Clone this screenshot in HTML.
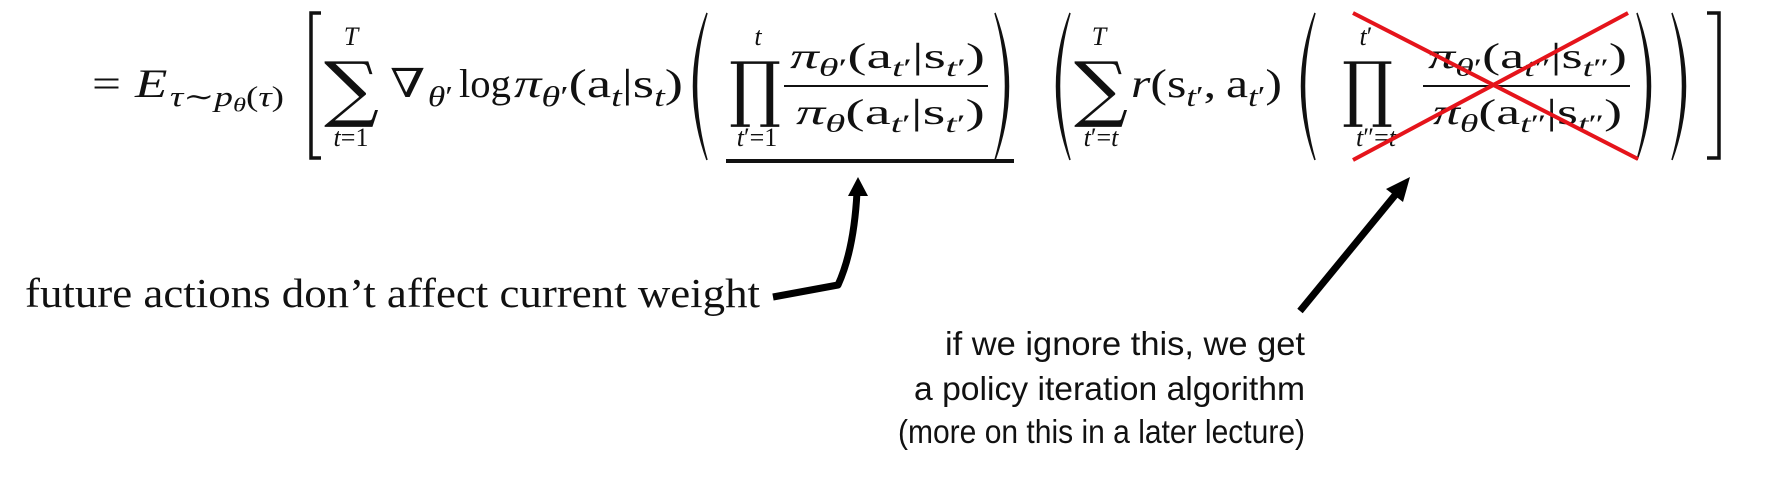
<!DOCTYPE html>
<html>
<head>
<meta charset="utf-8">
<style>
  html,body{margin:0;padding:0;background:#fff;}
  body{width:1774px;height:482px;overflow:hidden;}
  svg text{font-family:"Liberation Serif","DejaVu Serif",serif;fill:#111;}
  .sans{font-family:"Liberation Sans","DejaVu Sans",sans-serif !important;}
</style>
</head>
<body>
<svg id="root" width="1774" height="482" viewBox="0 0 1774 482" xmlns="http://www.w3.org/2000/svg">
  <rect x="0" y="0" width="1774" height="482" fill="#fff"/>

  <path d="M321,13 L311,13 L311,158 L321,158" fill="none" stroke="#111" stroke-width="3.5"/>
  <path d="M1707,13 L1719,13 L1719,158 L1707,158" fill="none" stroke="#111" stroke-width="3.5"/>

  <path d="M707,13 Q680,86 707,160 Q686,86 707,13 Z" fill="#111" stroke="#111" stroke-width="1.5"/>
  <path d="M995,13 Q1022,86 995,160 Q1016,86 995,13 Z" fill="#111" stroke="#111" stroke-width="1.5"/>
  <path d="M1070,13 Q1043,86 1070,160 Q1049,86 1070,13 Z" fill="#111" stroke="#111" stroke-width="1.5"/>
  <path d="M1315,13 Q1288,86 1315,160 Q1294,86 1315,13 Z" fill="#111" stroke="#111" stroke-width="1.5"/>
  <path d="M1637,13 Q1664,86 1637,160 Q1658,86 1637,13 Z" fill="#111" stroke="#111" stroke-width="1.5"/>
  <path d="M1672,13 Q1699,86 1672,160 Q1693,86 1672,13 Z" fill="#111" stroke="#111" stroke-width="1.5"/>

  <text x="324" y="113" font-size="72" textLength="55" lengthAdjust="spacingAndGlyphs" style="font-family:'DejaVu Serif',serif">∑</text>
  <text x="1074" y="113" font-size="72" textLength="54" lengthAdjust="spacingAndGlyphs" style="font-family:'DejaVu Serif',serif">∑</text>
  <text x="729" y="113" font-size="72" textLength="52" lengthAdjust="spacingAndGlyphs" style="font-family:'DejaVu Serif',serif">∏</text>
  <text x="1342" y="113" font-size="72" textLength="51" lengthAdjust="spacingAndGlyphs" style="font-family:'DejaVu Serif',serif">∏</text>

  <line x1="784" y1="86" x2="988" y2="86" stroke="#111" stroke-width="2"/>
  <line x1="1423" y1="86" x2="1630" y2="86" stroke="#111" stroke-width="2"/>

  <line x1="726" y1="161" x2="1014" y2="161" stroke="#111" stroke-width="4"/>

  <g id="math"></g>

  <line x1="1353" y1="13" x2="1638" y2="159" stroke="#e5141b" stroke-width="4"/>
  <line x1="1353" y1="160" x2="1628" y2="13" stroke="#e5141b" stroke-width="4"/>

  <text x="25" y="307" font-size="41" textLength="735" lengthAdjust="spacingAndGlyphs">future actions don’t affect current weight</text>
  <path d="M773,297 L838,285 Q854,250 857,192" fill="none" stroke="#000" stroke-width="7" stroke-linejoin="round"/>
  <polygon points="848,196 868,196 858,177" fill="#000"/>

  <line x1="1300" y1="311" x2="1396" y2="194" stroke="#000" stroke-width="7"/>
  <polygon points="1386,189 1403,202 1410,177" fill="#000"/>
  <text class="sans" x="1305" y="355" font-size="33" text-anchor="end" textLength="360" lengthAdjust="spacingAndGlyphs">if we ignore this, we get</text>
  <text class="sans" x="1305" y="400" font-size="33" text-anchor="end" textLength="391" lengthAdjust="spacingAndGlyphs">a policy iteration algorithm</text>
  <text class="sans" x="1305" y="443" font-size="33" text-anchor="end" textLength="407" lengthAdjust="spacingAndGlyphs">(more on this in a later lecture)</text>
</svg>

<script>
var NS = "http://www.w3.org/2000/svg";
var root = document.getElementById("math");

function seg(name, x0, x1, base, parts, big) {
  var g = document.createElementNS(NS, "g");
  
  
  root.appendChild(g);
  var fs = big || 40;
  var cx = 0;
  parts.forEach(function (p) {
    var t = document.createElementNS(NS, "text");
    
    
    var k = p[1], size = fs, dy = 0, style = "normal";
    if (k === "i") style = "italic";
    if (k === "si") { size = fs * 0.7; dy = fs * 0.22; style = "italic"; }
    if (k === "sr") { size = fs * 0.7; dy = fs * 0.22; }
    if (k === "ssi") { size = fs * 0.5; dy = fs * 0.36; style = "italic"; }
    t.setAttribute("x", cx);
    t.setAttribute("y", dy);
    t.setAttribute("font-size", size);
    t.setAttribute("font-style", style);
    if (p[2]) t.setAttribute("style", "font-family:'DejaVu Serif',serif");
    t.textContent = p[0];
    g.appendChild(t);
    cx += t.getComputedTextLength() + (p[3] || 0);
  });
  var s = (x1 - x0) / cx;
  g.setAttribute("transform", "translate(" + x0 + "," + base + ") scale(" + s + ",1)");
}

function lim(name, cxp, y, parts) {
  var t = document.createElementNS(NS, "text");
  
  
  t.setAttribute("x", cxp);
  t.setAttribute("y", y);
  t.setAttribute("font-size", 26);
  t.setAttribute("text-anchor", "middle");
  parts.forEach(function (p) {
    var sp = document.createElementNS(NS, "tspan");
    if (p[1] === "i") sp.setAttribute("font-style", "italic");
    sp.textContent = p[0];
    t.appendChild(sp);
  });
  root.appendChild(t);
}

var P = "′", PP = "″";

seg("equals-sign", 92, 121, 97, [["=", "r"]]);
seg("expectation", 135, 284, 97, [["E", "i", 0, 2], ["τ", "si"], ["∼", "sr", 1], ["p", "si"], ["θ", "ssi"], ["(", "sr"], ["τ", "si"], [")", "sr"]]);
seg("gradient", 390, 453, 97, [["∇", "r", 1, 2], ["θ", "si"], [P, "sr"]]);
seg("log", 459, 511, 97, [["log", "r"]]);
seg("policy-term", 514, 683, 97, [["π", "i"], ["θ", "si"], [P, "sr"], ["(", "r"], ["a", "b"], ["t", "si"], ["|", "r"], ["s", "b"], ["t", "si"], [")", "r"]]);

seg("weight-numerator", 790, 985, 68, [["π", "i"], ["θ", "si"], [P, "sr"], ["(", "r"], ["a", "b"], ["t", "si"], [P, "sr"], ["|", "r"], ["s", "b"], ["t", "si"], [P, "sr"], [")", "r"]], 36);
seg("weight-denominator", 796, 985, 124, [["π", "i"], ["θ", "si"], ["(", "r"], ["a", "b"], ["t", "si"], [P, "sr"], ["|", "r"], ["s", "b"], ["t", "si"], [P, "sr"], [")", "r"]], 36);

seg("reward-term", 1131, 1282, 97, [["r", "i"], ["(", "r"], ["s", "b"], ["t", "si"], [P, "sr"], [",", "r", 0, 8], ["a", "b"], ["t", "si"], [P, "sr"], [")", "r"]]);

seg("crossed-numerator", 1428, 1627, 68, [["π", "i"], ["θ", "si"], [P, "sr"], ["(", "r"], ["a", "b"], ["t", "si"], [PP, "sr"], ["|", "r"], ["s", "b"], ["t", "si"], [PP, "sr"], [")", "r"]], 36);
seg("crossed-denominator", 1433, 1622, 124, [["π", "i"], ["θ", "si"], ["(", "r"], ["a", "b"], ["t", "si"], [PP, "sr"], ["|", "r"], ["s", "b"], ["t", "si"], [PP, "sr"], [")", "r"]], 36);

lim("sum-1-upper", 351, 45, [["T", "i"]]);
lim("sum-1-lower", 351, 146, [["t", "i"], ["=1", "r"]]);
lim("product-1-upper", 758, 45, [["t", "i"]]);
lim("product-1-lower", 757, 146, [["t", "i"], [P + "=1", "r"]]);
lim("sum-2-upper", 1099, 45, [["T", "i"]]);
lim("sum-2-lower", 1101, 146, [["t", "i"], [P + "=", "r"], ["t", "i"]]);
lim("product-2-upper", 1366, 45, [["t", "i"], [P, "r"]]);
lim("product-2-lower", 1376, 146, [["t", "i"], [PP + "=", "r"], ["t", "i"]]);
</script>
</body>
</html>
